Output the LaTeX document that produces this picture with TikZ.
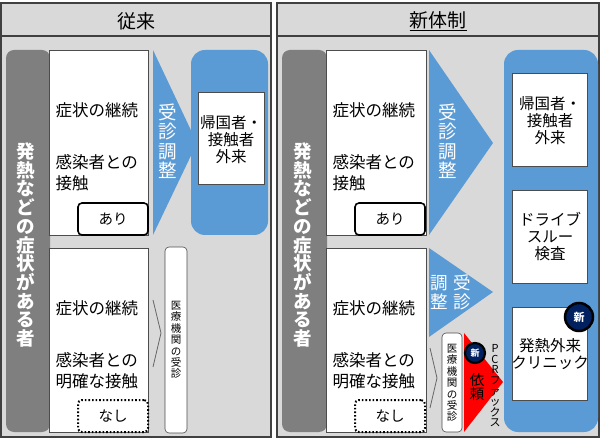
\documentclass[tikz,border=0pt]{standalone}
\usepackage{fontspec}
\setmainfont{Noto Sans CJK JP}
\definecolor{bgray}{HTML}{D9D9D9}
\definecolor{bar}{HTML}{7F7F7F}
\definecolor{pblue}{HTML}{5B9BD5}
\definecolor{navy}{HTML}{002060}
\definecolor{frame}{HTML}{404040}
\begin{document}
\begin{tikzpicture}[x=1pt,y=-1pt]
  \tikzstyle{panel}=[draw=frame,line width=1.2pt,fill=bgray]
  \tikzstyle{sidebar}=[fill=bar,rounded corners=8pt]
  \tikzstyle{case}=[draw=black!70,fill=white,line width=0.6pt]
  \tikzstyle{tag}=[draw=black,fill=white,rounded corners=4pt,line width=1.6pt,font=\fontsize{14.5}{16}\selectfont,minimum width=70pt,minimum height=32pt]
  \tikzstyle{tagdot}=[tag,dotted,line width=2pt]
  \tikzstyle{chev}=[fill=pblue]
  \tikzstyle{clinic}=[fill=pblue,rounded corners=14pt]
  \tikzstyle{label}=[anchor=west,align=left,font=\fontsize{16.5}{21}\selectfont]
  \tikzstyle{dlabel}=[align=center,font=\fontsize{15.5}{17}\selectfont]
  \tikzstyle{vert}=[align=center,text=white,font=\fontsize{18.5}{19.5}\selectfont]
  \tikzstyle{small}=[align=center,font=\fontsize{10.5}{11.4}\selectfont]
  \tikzstyle{badge}=[circle,fill=navy,draw=black,line width=2.5pt,text=white,font=\bfseries\fontsize{11}{11}\selectfont,inner sep=0pt,minimum size=28pt]
  \tikzstyle{open}=[draw=black!60,line width=0.8pt]
  \useasboundingbox (0,0) rectangle (600,438);

  % conventional
  \path[panel] (1,3) rectangle (271,437);
  \draw[frame,line width=1.2pt] (1,36) -- (271,36);
  \node[font=\fontsize{19}{19}\selectfont] (oldhead) at (136,21) {従来};
  \fill[sidebar] (6,50) rectangle (50,432);
  \node[vert,font=\bfseries\fontsize{18.5}{18.7}\selectfont] (oldwho) at (26,245) {発\\熱\\な\\ど\\の\\症\\状\\が\\あ\\る\\者};
  \path[case] (49,50) rectangle (148,235);
  \path[case] (49,248) rectangle (148,432);
  \node[label] (oldsym1) at (52,110) {症状の継続};
  \node[label] (oldcon1) at (52,173) {感染者との\\接触};
  \node[label] (oldsym2) at (52,308) {症状の継続};
  \node[label] (oldcon2) at (52,371) {感染者との\\明確な接触};
  \node[tag] (oldyes) at (113,219) {あり};
  \node[tagdot] (oldno) at (113,416) {なし};
  \fill[chev] (153,50) -- (197,143) -- (153,235) -- cycle;
  \node[vert] (oldadj) at (168,141) {受\\診\\調\\整};
  \fill[clinic] (191,50) rectangle (268,235);
  \path[case] (198,92) rectangle (264,184);
  \node[dlabel] (oldout) at (231,140) {帰国者・\\接触者\\外来};
  \draw[open] (153,300) -- (161,333) -- (153,367);
  \path[case,rounded corners=4pt] (165,247) rectangle (187,433);
  \node[small] (oldvisit) at (176,340) {医\\療\\機\\関\\の\\受\\診};

  % new system
  \path[panel] (277,3) rectangle (599,437);
  \draw[frame,line width=1.2pt] (277,36) -- (599,36);
  \node[font=\fontsize{19}{19}\selectfont] (newhead) at (438,21) {\underline{新体制}};
  \fill[sidebar] (282,50) rectangle (327,432);
  \node[vert,font=\bfseries\fontsize{18.5}{18.7}\selectfont] (newwho) at (303,245) {発\\熱\\な\\ど\\の\\症\\状\\が\\あ\\る\\者};
  \path[case] (326,50) rectangle (426,235);
  \path[case] (326,248) rectangle (426,432);
  \node[label] (newsym1) at (329,110) {症状の継続};
  \node[label] (newcon1) at (329,173) {感染者との\\接触};
  \node[label] (newsym2) at (329,308) {症状の継続};
  \node[label] (newcon2) at (329,371) {感染者との\\明確な接触};
  \node[tag] (newyes) at (390,219) {あり};
  \node[tagdot] (newno) at (390,416) {なし};
  \fill[chev] (429,50) -- (493,143) -- (429,235) -- cycle;
  \node[vert] (newadj) at (448,141) {受\\診\\調\\整};
  \fill[chev] (429,248) -- (493,292) -- (429,337) -- cycle;
  \node[vert,font=\fontsize{17.5}{19}\selectfont] (newadj2a) at (462,292) {受\\診};
  \node[vert,font=\fontsize{17.5}{19}\selectfont] (newadj2b) at (439,292) {調\\整};
  \fill[clinic] (504,50) rectangle (598,432);
  \path[case] (512,73) rectangle (587,166);
  \path[case] (512,190) rectangle (587,283);
  \path[case] (512,307) rectangle (587,400);
  \node[dlabel] (newout) at (550,121) {帰国者・\\接触者\\外来};
  \node[dlabel] (drive) at (550,237) {ドライブ\\スルー\\検査};
  \node[dlabel] (fever) at (550,354) {発熱外来\\クリニック};
  \node[badge] (newbadge1) at (579,317) {新};
  \draw[open] (430,348) -- (437,378) -- (430,408);
  \path[case,rounded corners=4pt] (442,333) rectangle (462,432);
  \node[small] (newvisit) at (452,383) {医\\療\\機\\関\\の\\受\\診};
  \fill[red] (464,333) -- (503,382) -- (464,432) -- cycle;
  \node[badge,minimum size=20pt,line width=2.2pt,font=\bfseries\fontsize{9}{9}\selectfont] (newbadge2) at (475,353) {新};
  \node[align=center,font=\fontsize{14.5}{14}\selectfont] (request) at (477,387) {依\\頼};
  \node[align=center,font=\fontsize{11}{10.6}\selectfont] (pcrfax) at (495,386) {P\\C\\R\\フ\\ァ\\ッ\\ク\\ス};
\end{tikzpicture}
\end{document}
